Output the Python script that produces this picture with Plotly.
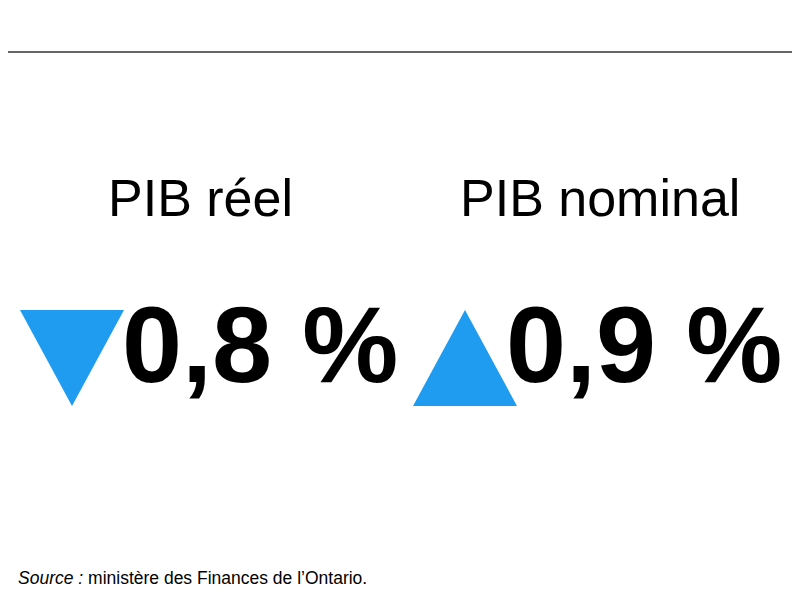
import plotly.graph_objects as go

title = "PIB de l’Ontario, deuxième trimestre de 2021"
labels = ["PIB réel", "PIB nominal"]
values = ["0,8 %", "0,9 %"]
directions = ["down", "up"]
source = "<i>Source :</i> ministère des Finances de l’Ontario."

BLUE = "#1F9BF0"
fig = go.Figure()

label_x = [192, 592]
tri_cx = [64, 457]
val_x = [252, 636]
for i in range(2):
    cx = tri_cx[i]
    w, top, bot = 52, 302, 398
    if directions[i] == "down":
        xs = [cx - w, cx + w, cx, cx - w]; ys = [top, top, bot, top]
    else:
        xs = [cx - w, cx + w, cx, cx - w]; ys = [bot, bot, top, bot]
    fig.add_trace(go.Scatter(x=xs, y=ys, fill="toself", fillcolor=BLUE,
                             line=dict(width=0, color=BLUE), mode="lines",
                             hoverinfo="skip", showlegend=False))
    fig.add_annotation(x=label_x[i], y=190, text=labels[i], showarrow=False,
                       font=dict(family="Liberation Sans", size=52, color="black"))
    fig.add_annotation(x=val_x[i], y=336, text="<b>" + values[i] + "</b>", showarrow=False,
                       font=dict(family="Liberation Sans", size=108, color="black"))

fig.add_annotation(x=-4, y=14, text="<b>" + title + "</b>", showarrow=False, xanchor="left",
                   font=dict(family="Liberation Sans", size=35, color="#595959"))
fig.add_annotation(x=8, y=570, text=source, showarrow=False, xanchor="left",
                   font=dict(family="Liberation Sans", size=17.5, color="black"))
fig.add_shape(type="line", x0=-10, x1=800, y0=44, y1=44, line=dict(color="#333333", width=1.5))

fig.update_xaxes(range=[0, 800], visible=False)
fig.update_yaxes(range=[600, 0], visible=False)
fig.update_layout(width=800, height=600, margin=dict(l=0, r=0, t=0, b=0),
                  plot_bgcolor="white", paper_bgcolor="white")
fig.write_html("out.html")
